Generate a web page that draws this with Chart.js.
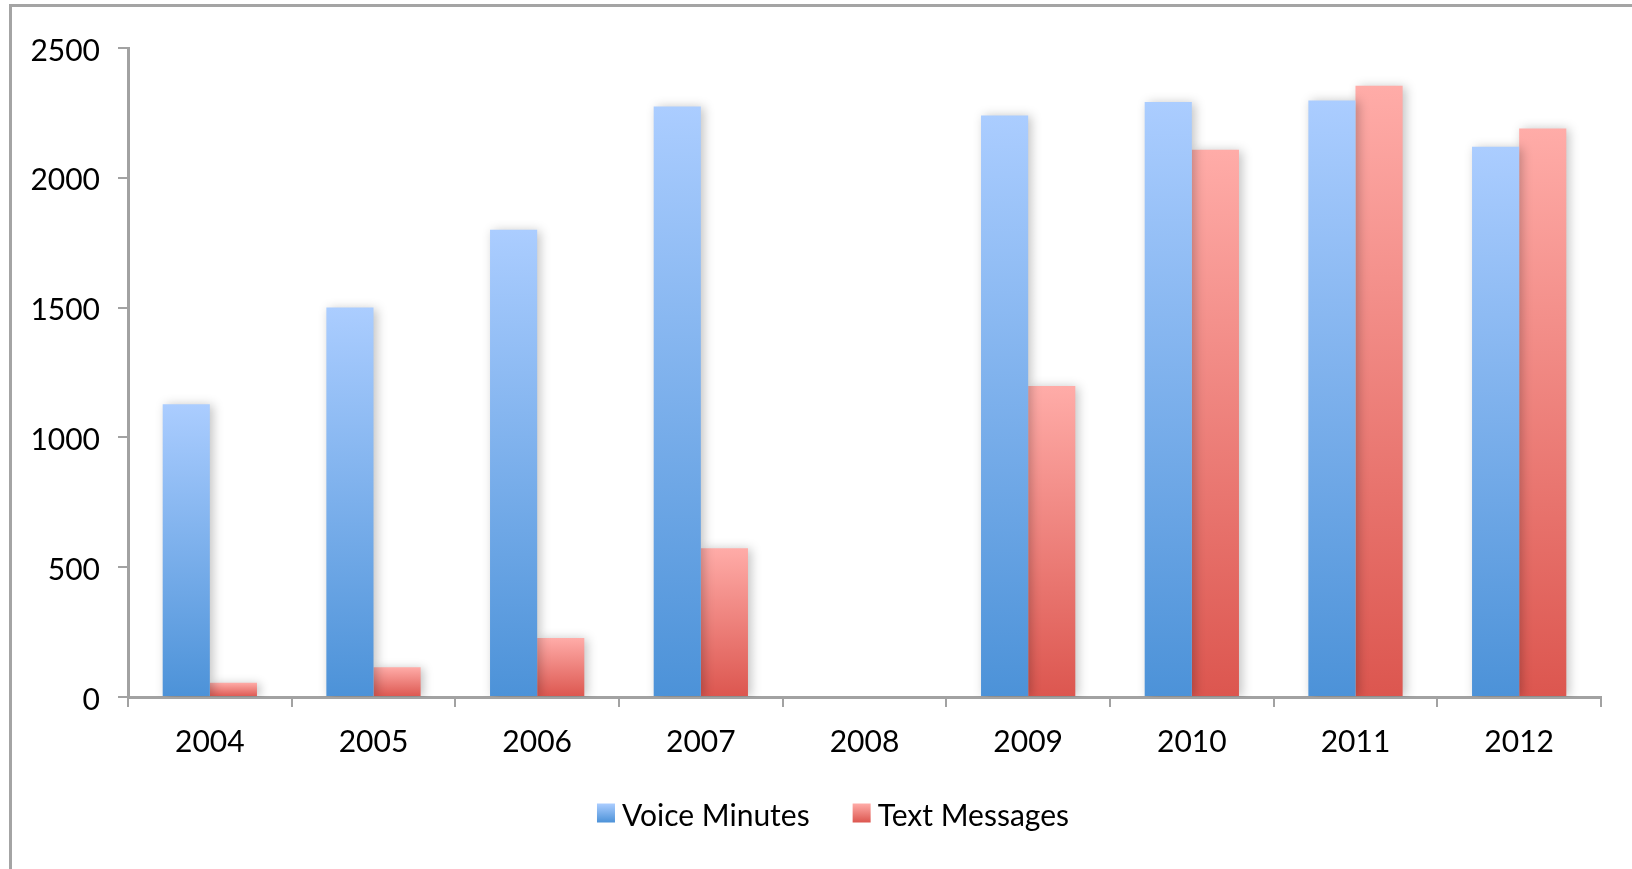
<!DOCTYPE html>
<html>
<head>
<meta charset="utf-8">
<script src="https://cdn.jsdelivr.net/npm/chart.js@4.4.1/dist/chart.umd.min.js"></script>
<style>
  html, body { margin: 0; padding: 0; background: #ffffff; }
  #wrap { width: 1632px; height: 869px; position: relative; }
</style>
</head>
<body>
<div id="wrap"><canvas id="chart" width="1632" height="869"></canvas></div>
<script>
// Yearly usage: voice minutes and text messages
const years = ['2004', '2005', '2006', '2007', '2008', '2009', '2010', '2011', '2012'];
const voiceMinutes = [1128, 1500, 1800, 2275, null, 2240, 2292, 2298, 2120];
const textMessages = [55, 115, 227, 573, null, 1198, 2108, 2355, 2190];
const yTicks = [0, 500, 1000, 1500, 2000, 2500];
const seriesNames = ['Voice Minutes', 'Text Messages'];

const FONT = 'Lato, "Open Sans", "Liberation Sans", sans-serif';
const FONT_SIZE = 30;
const AXIS_GRAY = '#a2a2a2';
const BLUE = { top: '#abcdff', bottom: '#4c92d8' };
const RED = { top: '#ffaca8', bottom: '#dc564f' };

// Each bar gets its own vertical gradient, light at the top, dark at the base.
function barGradient(pal) {
  return function (ctx) {
    const chart = ctx.chart;
    if (!chart.chartArea || ctx.type !== 'data') return pal.bottom;
    const v = ctx.raw;
    if (v == null) return pal.bottom;
    const ys = chart.scales.y;
    const yTop = ys.getPixelForValue(v);
    const yBase = ys.getPixelForValue(0);
    const g = chart.ctx.createLinearGradient(0, yTop, 0, yBase);
    g.addColorStop(0, pal.top);
    g.addColorStop(1, pal.bottom);
    return g;
  };
}

// Grey frame around the chart (its right and bottom edges lie off-canvas)
const framePlugin = {
  id: 'frame',
  beforeDraw(chart) {
    const c = chart.ctx;
    c.save();
    c.fillStyle = '#ffffff';
    c.fillRect(0, 0, chart.width, chart.height);
    c.fillStyle = '#a4a4a4';
    c.fillRect(9, 4, 3, chart.height - 4);
    c.fillRect(9, 4, chart.width - 9, 3);
    c.restore();
  }
};

// Soft drop shadow behind the bars
const shadowPlugin = {
  id: 'barShadow',
  beforeDatasetsDraw(chart) {
    const c = chart.ctx;
    c.save();
    c.shadowColor = 'rgba(0,0,0,0.24)';
    c.shadowBlur = 10;
    c.shadowOffsetX = 3;
    c.shadowOffsetY = 1;
  },
  afterDatasetsDraw(chart) {
    chart.ctx.restore();
  }
};

// Legend row under the axis: gradient swatch, then the series name
const legendPlugin = {
  id: 'bottomLegend',
  afterDraw(chart) {
    const c = chart.ctx;
    const boxW = 18, boxH = 19, boxGap = 7, itemGap = 43;
    const palettes = [BLUE, RED];
    c.save();
    c.font = FONT_SIZE + 'px ' + FONT;
    const widths = chart.data.datasets.map(d => c.measureText(d.label).width);
    let total = 0;
    widths.forEach((w, i) => { total += boxW + boxGap + w + (i ? itemGap : 0); });
    let x = chart.width / 2 + 17 - total / 2;
    const cy = 816;
    chart.data.datasets.forEach((d, i) => {
      const pal = palettes[i];
      const g = c.createLinearGradient(0, cy - boxH / 2 - 3, 0, cy + boxH / 2 - 3);
      g.addColorStop(0, pal.top);
      g.addColorStop(1, pal.bottom);
      c.fillStyle = g;
      c.fillRect(x, cy - boxH / 2 - 3, boxW, boxH);
      x += boxW + boxGap;
      c.fillStyle = '#000000';
      c.textBaseline = 'middle';
      c.textAlign = 'left';
      c.fillText(d.label, x, cy);
      x += widths[i] + itemGap;
    });
    c.restore();
  }
};

new Chart(document.getElementById('chart'), {
  type: 'bar',
  data: {
    labels: years,
    datasets: [
      { label: seriesNames[0], data: voiceMinutes, backgroundColor: barGradient(BLUE), borderWidth: 0 },
      { label: seriesNames[1], data: textMessages, backgroundColor: barGradient(RED), borderWidth: 0 }
    ]
  },
  options: {
    responsive: false,
    animation: false,
    devicePixelRatio: 1,
    categoryPercentage: 0.576,
    barPercentage: 1.0,
    layout: { padding: { left: 0, top: 48, right: 31, bottom: 92 } },
    plugins: {
      legend: { display: false },
      tooltip: { enabled: false },
      title: { display: false }
    },
    scales: {
      x: {
        afterFit(scale) { scale.height = 80; },
        grid: {
          offset: true,
          drawOnChartArea: false,
          drawTicks: true,
          tickLength: 10,
          color: AXIS_GRAY,
          lineWidth: 2
        },
        border: { display: true, color: AXIS_GRAY, width: 3 },
        ticks: {
          color: '#000000',
          padding: 17,
          font: { family: FONT, size: FONT_SIZE },
          maxRotation: 0
        }
      },
      y: {
        min: yTicks[0],
        max: yTicks[yTicks.length - 1],
        afterFit(scale) { scale.width = 128; },
        afterBuildTicks(scale) { scale.ticks = yTicks.map(v => ({ value: v })); },
        grid: {
          drawOnChartArea: false,
          drawTicks: true,
          tickLength: 10,
          color: AXIS_GRAY,
          lineWidth: 2
        },
        border: { display: true, color: AXIS_GRAY, width: 3 },
        ticks: {
          color: '#000000',
          padding: 18,
          labelOffset: 3,
          font: { family: FONT, size: FONT_SIZE },
          callback: (v) => String(v)
        }
      }
    }
  },
  plugins: [framePlugin, shadowPlugin, legendPlugin]
});
</script>
</body>
</html>
